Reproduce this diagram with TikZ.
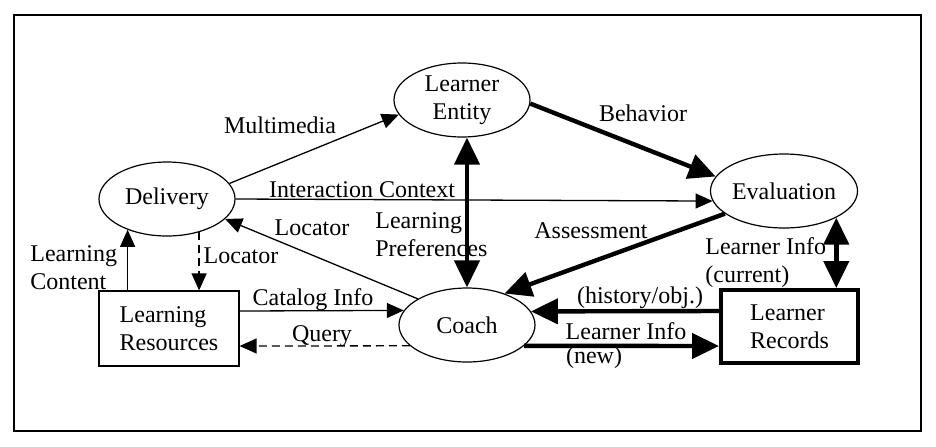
\documentclass[tikz,border=0pt]{standalone}
\usepackage{fontspec}
\setmainfont{Liberation Serif}
\usetikzlibrary{arrows.meta, shapes.geometric, calc}

\begin{document}
\begin{tikzpicture}[x=0.5pt, y=-0.5pt,
    font=\fontsize{12pt}{14pt}\selectfont,
    unit/.style={draw, ellipse, line width=0.6pt, minimum width=68pt, minimum height=37pt, inner sep=0pt, align=center},
    store/.style={draw, rectangle, line width=0.6pt, minimum width=70pt, minimum height=37.5pt, inner sep=0pt, align=left},
    flow/.style={line width=0.65pt, >={Triangle[length=8.5pt, width=7.5pt]}, ->},
    heavy/.style={line width=2.2pt, >={Triangle[length=13.5pt, width=12.5pt]}, ->},
    cue/.style={dash pattern=on 4pt off 2.5pt},
    lbl/.style={inner sep=0pt, align=left}]
                        \useasboundingbox (0, 0) rectangle (936, 446);
                        \draw[line width=0.6pt] (14, 15) rectangle (921, 431);

                        \node[unit] (entity) at (462, 100) {Learner\\Entity};
                        \node[unit] (delivery) at (167, 199) {Delivery};
                        \node[unit, minimum width=67pt] (eval) at (784, 191) {Evaluation};
                        \node[unit] (coach) at (467, 325) {Coach};
                        \node[store] (resources) at (169, 328.5) {Learning\\Resources};
                        \node[store, line width=2pt, minimum width=68.5pt, minimum height=36.5pt] (records) at (789.5, 326.5) {Learner\\Records};

                        \draw[flow] (delivery.14) -- (entity.193);
                        \draw[heavy] (entity.357) -- (eval.168);
                        \draw[flow] (delivery.east) -- (eval.188);
                        \draw[heavy, <->] (entity.south -| coach.north) -- (coach.north);
                        \draw[heavy] (eval.201) -- (coach.40);
                        \draw[heavy, <->] (eval.333) -- (eval.333 |- records.north);
                        \draw[heavy] ([yshift=7.75pt]records.west) -- (coach.12.5);
                        \draw[heavy] (coach.340) -- ([yshift=-9.75pt]records.west);
                        \draw[flow] (coach.152) -- (delivery.341);
                        \draw[flow] (delivery.218 |- resources.north) -- (delivery.218);
                        \draw[flow, cue] (delivery.314.5) -- (delivery.314.5 |- resources.north);
                        \draw[flow] ([yshift=8.75pt]resources.east) -- (coach.167.5);
                        \draw[flow, cue] (coach.200) -- ([yshift=-8.75pt]resources.east);

                        \node[lbl] (multimedia) at (280, 125) {Multimedia};
                        \node[lbl] (behavior) at (643, 113) {Behavior};
                        \node[lbl] (interaction) at (362, 190) {Interaction Context};
                        \node[lbl, anchor=west] (prefs) at (375, 235) {Learning\\Preferences};
                        \node[lbl] (locatorup) at (312, 228) {Locator};
                        \node[lbl] (assessment) at (591, 231) {Assessment};
                        \node[lbl, anchor=west] (current) at (705, 263) {Learner Info\\(current)};
                        \node[lbl, anchor=west] (content) at (30, 268) {Learning\\Content};
                        \node[lbl] (locatordown) at (241, 256) {Locator};
                        \node[lbl] (catalog) at (313, 300) {Catalog Info};
                        \node[lbl] (query) at (322, 336) {Query};
                        \node[lbl] (history) at (640, 298) {(history/obj.)};
                        \node[lbl] (newinfo) at (626, 331) {Learner Info};
                        \node[lbl] (newtag) at (594, 358) {(new)};
                    \end{tikzpicture}
\end{document}
